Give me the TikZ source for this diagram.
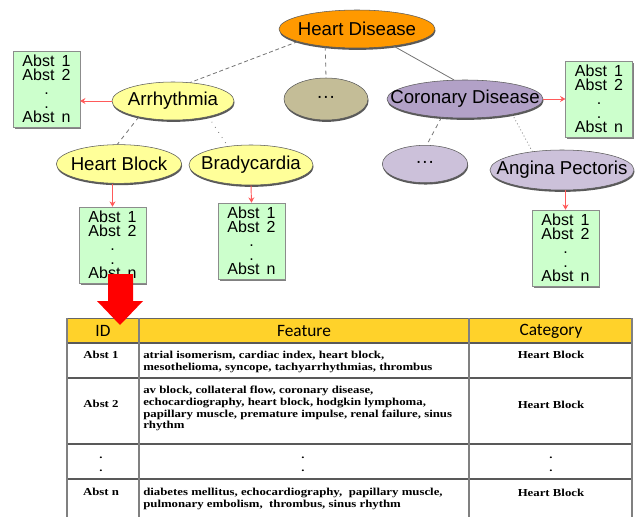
\documentclass[tikz,border=0pt]{standalone}
\usepackage{fontspec}
\setmainfont{Liberation Sans}
\newfontfamily\headfont{Carlito}
\newfontfamily\cellfont[FakeStretch=1.2]{Liberation Serif}
\usetikzlibrary{shapes.geometric,shadows,arrows.meta}

\definecolor{hdorange}{HTML}{FF9900}
\definecolor{arryellow}{HTML}{FFFF99}
\definecolor{khaki}{HTML}{C4BD97}
\definecolor{corpurple}{HTML}{B2A1C7}
\definecolor{lavender}{HTML}{CCC1DA}
\definecolor{absgreen}{HTML}{CCFFCC}
\definecolor{hdrgold}{HTML}{FFD22A}
\definecolor{arrowred}{HTML}{FF5A5A}

\newcommand{\inoval}[1]{\makebox[0pt]{#1}}
\newcommand{\abstlist}{Abst\ \,1\\Abst\ \,2\\.\\.\\Abst\ \,n}

\tikzset{
  oval/.style n args={3}{ellipse, draw=black!65, fill=#3, minimum width=#1,
    minimum height=#2, inner sep=0pt, font=\fontsize{14}{14}\selectfont,
    drop shadow={shadow xshift=0.4pt, shadow yshift=-1.4pt, fill=black!65, opacity=1}},
  abstbox/.style={rectangle, draw=black!45, fill=absgreen, minimum width=50pt,
    minimum height=57pt, inner sep=0pt, align=center, font=\fontsize{12}{10.5}\selectfont,
    drop shadow={shadow xshift=1.2pt, shadow yshift=-1.2pt, fill=black!50, opacity=1}},
  link/.style={draw=black!55, line width=0.6pt},
  tolist/.style={draw=arrowred, line width=0.7pt, -{Stealth[length=4pt,width=4.5pt]}},
  headcell/.style={font=\headfont\fontsize{13}{13}\selectfont, inner sep=0pt},
  cell/.style={font=\cellfont\bfseries\fontsize{8}{8.75}\selectfont, inner sep=0pt},
  rowline/.style={draw=black!65, line width=1.3pt},
  colline/.style={draw=black!50, line width=1pt}
}

\begin{document}
\begin{tikzpicture}[x=0.75pt, y=-0.75pt]
\useasboundingbox (0,0) rectangle (640,517);

% concept tree
\node[oval={117pt}{28.5pt}{hdorange}] (hd) at (357,29) {\inoval{Heart Disease}};
\node[oval={91.5pt}{28.5pt}{arryellow}] (arr) at (173,101) {\inoval{Arrhythmia}};
\node[oval={63pt}{31.5pt}{khaki}] (hdots) at (326,99) {\inoval{···}};
\node[oval={117pt}{28.5pt}{corpurple}] (cor) at (465,99) {\inoval{Coronary Disease}};
\node[oval={94pt}{29pt}{arryellow}] (hb) at (119,164) {\inoval{Heart Block}};
\node[oval={93pt}{30pt}{arryellow}] (brady) at (251,165) {\inoval{Bradycardia}};
\node[oval={64pt}{28pt}{lavender}] (cdots) at (425,164) {\inoval{···}};
\node[oval={108pt}{30pt}{lavender}] (ang) at (562,170) {\inoval{Angina Pectoris}};

\draw[link, densely dashed] (hd.192) -- (arr.47);
\draw[link, dashed] (hd.209) -- (hdots.north);
\draw[link] (hd.-25) -- (cor.120);
\draw[link, dashed] (arr.205) -- (hb.95);
\draw[link, loosely dotted] (arr.-24) -- (brady.141);
\draw[link, dashed] (cor.218) -- (cdots.85);
\draw[link, dotted] (cor.-18) -- (ang.148);

% abstract lists
\node[abstbox] (absArr) at (46.5,89) {\abstlist};
\node[abstbox] (absCor) at (599,99) {\abstlist};
\node[abstbox] (absHb) at (112.5,245) {\abstlist};
\node[abstbox] (absBrady) at (251.5,241) {\abstlist};
\node[abstbox] (absAng) at (565.5,248) {\abstlist};

\draw[tolist] (arr.west) -- (arr.west -| absArr.east);
\draw[tolist] (cor.east) -- (absCor.west);
\draw[tolist] (absHb.north |- hb.south) -- (absHb.north);
\draw[tolist] (brady.south) -- (absBrady.north);
\draw[tolist] (absAng.north |- ang.south) -- (absAng.north);

% table
\fill[hdrgold] (67,318) rectangle (632,343);
\draw[draw=black!60, line width=0.6pt] (67,318) -- (632,318);
\foreach \y in {343,378,444,479}
  \draw[rowline] (67,\y) -- (632,\y);
\foreach \x in {67,139,469,632}
  \draw[colline] (\x,318) -- (\x,517);

\node[headcell] (hid) at (103,331) {ID};
\node[headcell] (hfeat) at (304,331) {Feature};
\node[headcell] (hcat) at (551,331) {Category};

\node[cell, anchor=base] (id1) at (101,358) {Abst 1};
\node[cell, anchor=north west, align=left] (ft1) at (143,350.7)
  {atrial isomerism, cardiac index, heart block,\\mesothelioma, syncope, tachyarrhythmias, thrombus};
\node[cell, anchor=base] (ca1) at (551,358) {Heart Block};

\node[cell, anchor=base] (id2) at (101,407) {Abst 2};
\node[cell, anchor=north west, align=left] (ft2) at (143,386.2)
  {av block, collateral flow, coronary disease,\\echocardiography, heart block, hodgkin lymphoma,\\papillary muscle, premature impulse, renal failure, sinus\\rhythm};
\node[cell, anchor=base] (ca2) at (551,408) {Heart Block};

\foreach \x in {101,303,551}
  \foreach \y in {458,471}
    \node[cell] (dot-\x-\y) at (\x,\y) {.};

\node[cell, anchor=base] (idn) at (101,495.5) {Abst n};
\node[cell, anchor=north west, align=left] (ftn) at (143,487.7)
  {diabetes mellitus, echocardiography,\ \ papillary muscle,\\pulmonary embolism,\ \ thrombus, sinus rhythm};
\node[cell, anchor=base] (can) at (551,496) {Heart Block};

% big arrow into the table
\fill[red] (108,274) -- (133,274) -- (133,301) -- (143,301) -- (120,325)
  -- (97,301) -- (108,301) -- cycle;
\end{tikzpicture}
\end{document}
